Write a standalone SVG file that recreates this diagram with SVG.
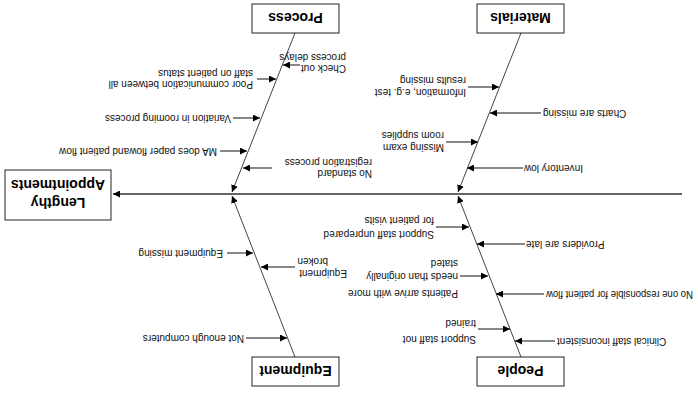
<svg xmlns="http://www.w3.org/2000/svg" width="698" height="396" viewBox="0 0 698 396">
<style>
.bg{fill:#fff}
.box{fill:#fff;stroke:#222;stroke-width:1}
.title{font-family:"Liberation Sans",Arial,sans-serif;font-weight:bold;font-size:14px;fill:#000;text-anchor:middle}
.lbl{font-family:"Liberation Sans",Arial,sans-serif;font-size:10px;fill:#111}
.end{text-anchor:end}
.spine{stroke:#333;stroke-width:1.6;fill:none}
.bone{stroke:#444;stroke-width:1;fill:none}
.arr{stroke:#111;stroke-width:1;fill:none}
</style>
<defs>
<marker id="ah" markerUnits="userSpaceOnUse" markerWidth="8" markerHeight="7" refX="7" refY="3.5" orient="auto">
<path d="M0,0 L7,3.5 L0,7 z" fill="#000"/>
</marker>
</defs>
<rect class="bg" x="0" y="0" width="698" height="396"/>
<g transform="rotate(180 349 198)">
<g id="connectors">
<line class="spine" x1="16" y1="202" x2="585" y2="202" marker-end="url(#ah)"/>
<line class="bone" x1="403" y1="363" x2="466" y2="204" marker-end="url(#ah)"/>
<line class="bone" x1="177" y1="363" x2="240" y2="204" marker-end="url(#ah)"/>
<line class="bone" x1="403" y1="39" x2="466" y2="200" marker-end="url(#ah)"/>
<line class="bone" x1="177" y1="39" x2="240" y2="200" marker-end="url(#ah)"/>
<line class="arr" x1="398" y1="331" x2="415" y2="331" marker-end="url(#ah)"/>
<line class="arr" x1="441" y1="317" x2="422" y2="317" marker-end="url(#ah)"/>
<line class="arr" x1="465" y1="278" x2="438" y2="278" marker-end="url(#ah)"/>
<line class="arr" x1="478" y1="245" x2="451" y2="245" marker-end="url(#ah)"/>
<line class="arr" x1="426" y1="228" x2="455" y2="228" marker-end="url(#ah)"/>
<line class="arr" x1="230" y1="309" x2="199" y2="309" marker-end="url(#ah)"/>
<line class="arr" x1="157" y1="283" x2="208" y2="283" marker-end="url(#ah)"/>
<line class="arr" x1="252" y1="254" x2="220" y2="254" marker-end="url(#ah)"/>
<line class="arr" x1="175" y1="228" x2="231" y2="228" marker-end="url(#ah)"/>
<line class="arr" x1="471" y1="143" x2="445" y2="143" marker-end="url(#ah)"/>
<line class="arr" x1="403" y1="129" x2="437" y2="129" marker-end="url(#ah)"/>
<line class="arr" x1="452" y1="58" x2="411" y2="58" marker-end="url(#ah)"/>
<line class="arr" x1="262" y1="169" x2="229" y2="169" marker-end="url(#ah)"/>
<line class="arr" x1="173" y1="152" x2="221" y2="152" marker-end="url(#ah)"/>
<line class="arr" x1="238" y1="120" x2="210" y2="120" marker-end="url(#ah)"/>
<line class="arr" x1="154" y1="102" x2="202" y2="102" marker-end="url(#ah)"/>
<line class="arr" x1="220" y1="67" x2="188" y2="67" marker-end="url(#ah)"/>
<line class="arr" x1="143" y1="55" x2="183" y2="55" marker-end="url(#ah)"/>
</g>
<g id="effect">
<rect class="box" x="587" y="176" width="106" height="50"/>
<text class="title" x="640" y="198">Lengthy</text>
<text class="title" x="640" y="216">Appointments</text>
</g>
<g id="process">
<rect class="box" x="359" y="363" width="87" height="29"/>
<text class="title" x="402.5" y="383">Process</text>
</g>
<g id="materials">
<rect class="box" x="134" y="363" width="87" height="29"/>
<text class="title" x="177.5" y="383">Materials</text>
</g>
<g id="equipment">
<rect class="box" x="359" y="10" width="87" height="29"/>
<text class="title" x="402.5" y="30">Equipment</text>
</g>
<g id="people">
<rect class="box" x="134" y="10" width="87" height="29"/>
<text class="title" x="177.5" y="30">People</text>
</g>
<g id="process-causes">
<text class="lbl" x="352" y="331">Check out</text>
<text class="lbl" x="352" y="342">process delays</text>
<text class="lbl" x="445" y="315">Poor communication between all</text>
<text class="lbl" x="445" y="326">staff on patient status</text>
<text class="lbl" x="467" y="281">Variation in rooming process</text>
<text class="lbl" x="481" y="248">MA does paper flowand patient flow</text>
<text class="lbl" x="326" y="226">No standard</text>
<text class="lbl" x="326" y="237">registration process</text>
</g>
<g id="materials-causes">
<text class="lbl" x="232" y="307">Information, e.g. test</text>
<text class="lbl" x="232" y="319">results missing</text>
<text class="lbl end" x="155" y="286">Charts are missing</text>
<text class="lbl" x="254" y="252">Missing exam</text>
<text class="lbl" x="254" y="264">room supplies</text>
<text class="lbl end" x="174" y="231">Inventory low</text>
</g>
<g id="equipment-causes">
<text class="lbl" x="475" y="146">Equipment missing</text>
<text class="lbl" x="351" y="126">Equipment</text>
<text class="lbl" x="370" y="138">broken</text>
<text class="lbl" x="454" y="61">Not enough computers</text>
</g>
<g id="people-causes">
<text class="lbl" x="264" y="165">Support staff unprepared</text>
<text class="lbl" x="264" y="179">for patient visits</text>
<text class="lbl end" x="172" y="155">Providers are late</text>
<text class="lbl" x="240" y="106">Patients arrive with more</text>
<text class="lbl" x="240" y="123">needs than originally</text>
<text class="lbl" x="240" y="136">stated</text>
<text class="lbl" x="5" y="105" textLength="147" lengthAdjust="spacingAndGlyphs">No one responsible for patient flow</text>
<text class="lbl" x="222" y="60">Support staff not</text>
<text class="lbl" x="222" y="76">trained</text>
<text class="lbl end" x="141" y="58">Clinical staff inconsistent</text>
</g>
</g>
</svg>
